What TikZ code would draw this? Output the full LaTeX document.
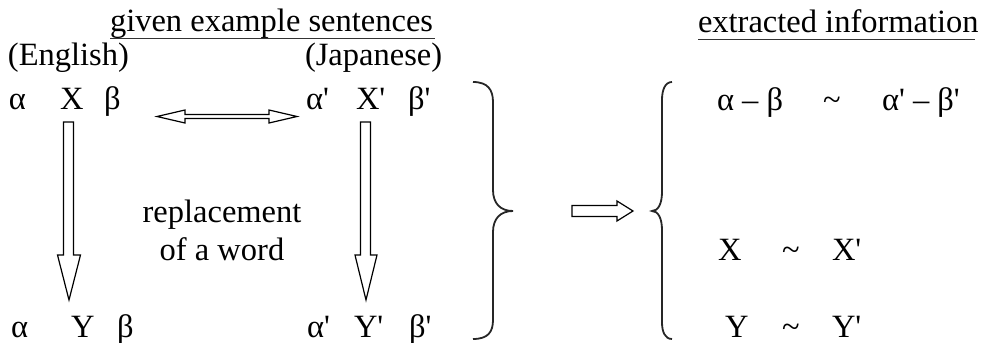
\documentclass[tikz,border=0pt]{standalone}
\usepackage{fontspec}
\setmainfont{Liberation Serif}
\newcommand\pq{\textquotesingle}
\tikzset{
  txt/.style={inner sep=0pt, outer sep=0pt, anchor=base west, font=\fontsize{32.5}{38}\selectfont},
  ctxt/.style={txt, anchor=base},
  hollow/.style={draw=black, line width=1.2pt, fill=white, line join=miter},
  bracepath/.style={draw=black!85, line width=1.8pt},
  uline/.style={draw=black!80, line width=1pt}
}
\begin{document}
\begin{tikzpicture}[x=1pt,y=-1pt]
\useasboundingbox (0,0) rectangle (989,343);
% headers
\node[txt] (h1) at (110,31) {given example sentences};
\draw[uline] (110,38) -- (435,38);
\node[txt] (h2) at (698,32) {extracted information};
\draw[uline] (698,39) -- (975,39);
\node[txt] (en) at (8,65) {(English)};
\node[txt] (ja) at (305,65) {(Japanese)};
% top row
\node[txt] (a1) at (9,109) {α};
\node[txt] (x1) at (60,109) {X};
\node[txt] (b1) at (104,109) {β};
\node[txt] (a2) at (306,109) {α\pq};
\node[txt] (x2) at (356,109) {X\pq};
\node[txt] (b2) at (408,109) {β\pq};
% bottom row
\node[txt] (a3) at (11,337) {α};
\node[txt] (y1) at (71,337) {Y};
\node[txt] (b3) at (117,337) {β};
\node[txt] (a4) at (307,337) {α\pq};
\node[txt] (y2) at (354,337) {Y\pq};
\node[txt] (b4) at (409,337) {β\pq};
% middle label
\node[ctxt] (r1) at (222,222) {replacement};
\node[ctxt] (r2) at (222,260) {of a word};
% double arrow
\draw[hollow] (157,116.5) -- (185,110) -- (185,114.5) -- (269,114.5) -- (269,110) -- (297,116.5)
  -- (269,123) -- (269,118.5) -- (185,118.5) -- (185,123) -- cycle;
% down arrows
\draw[hollow] (63.5,122) -- (73.5,122) -- (73.5,255) -- (80.5,255) -- (69,300) -- (57.5,255) -- (63.5,255) -- cycle;
\draw[hollow] (360.5,122) -- (370.5,122) -- (370.5,255) -- (377,255) -- (366,300) -- (355,255) -- (360.5,255) -- cycle;
% braces
\draw[bracepath] (473,82) .. controls (488,82) and (493,90) .. (493,102) -- (493,190)
  .. controls (493,203) and (500,211) .. (513,211)
  .. controls (500,211) and (493,219) .. (493,232) -- (493,320)
  .. controls (493,332) and (488,339) .. (473,339);
\draw[bracepath] (672,82) .. controls (665,82) and (662,90) .. (662,100) -- (662,192)
  .. controls (662,204) and (658,211) .. (652,211)
  .. controls (658,211) and (662,218) .. (662,230) -- (662,322)
  .. controls (662,332) and (665,339) .. (672,339);
% implies arrow
\draw[hollow] (572,205.5) -- (617,205.5) -- (617,201) -- (633,211) -- (617,221) -- (617,216.5) -- (572,216.5) -- cycle;
% extracted info
\node[txt] (e1) at (717,110) {α – β};
\node[txt] (t1) at (823,110) {\textasciitilde};
\node[txt] (e2) at (882,110) {α\pq{} – β\pq};
\node[txt] (e3) at (718,260) {X};
\node[txt] (t2) at (782,260) {\textasciitilde};
\node[txt] (e4) at (832,260) {X\pq};
\node[txt] (e5) at (725,337) {Y};
\node[txt] (t3) at (782,337) {\textasciitilde};
\node[txt] (e6) at (832,337) {Y\pq};
\end{tikzpicture}
\end{document}
